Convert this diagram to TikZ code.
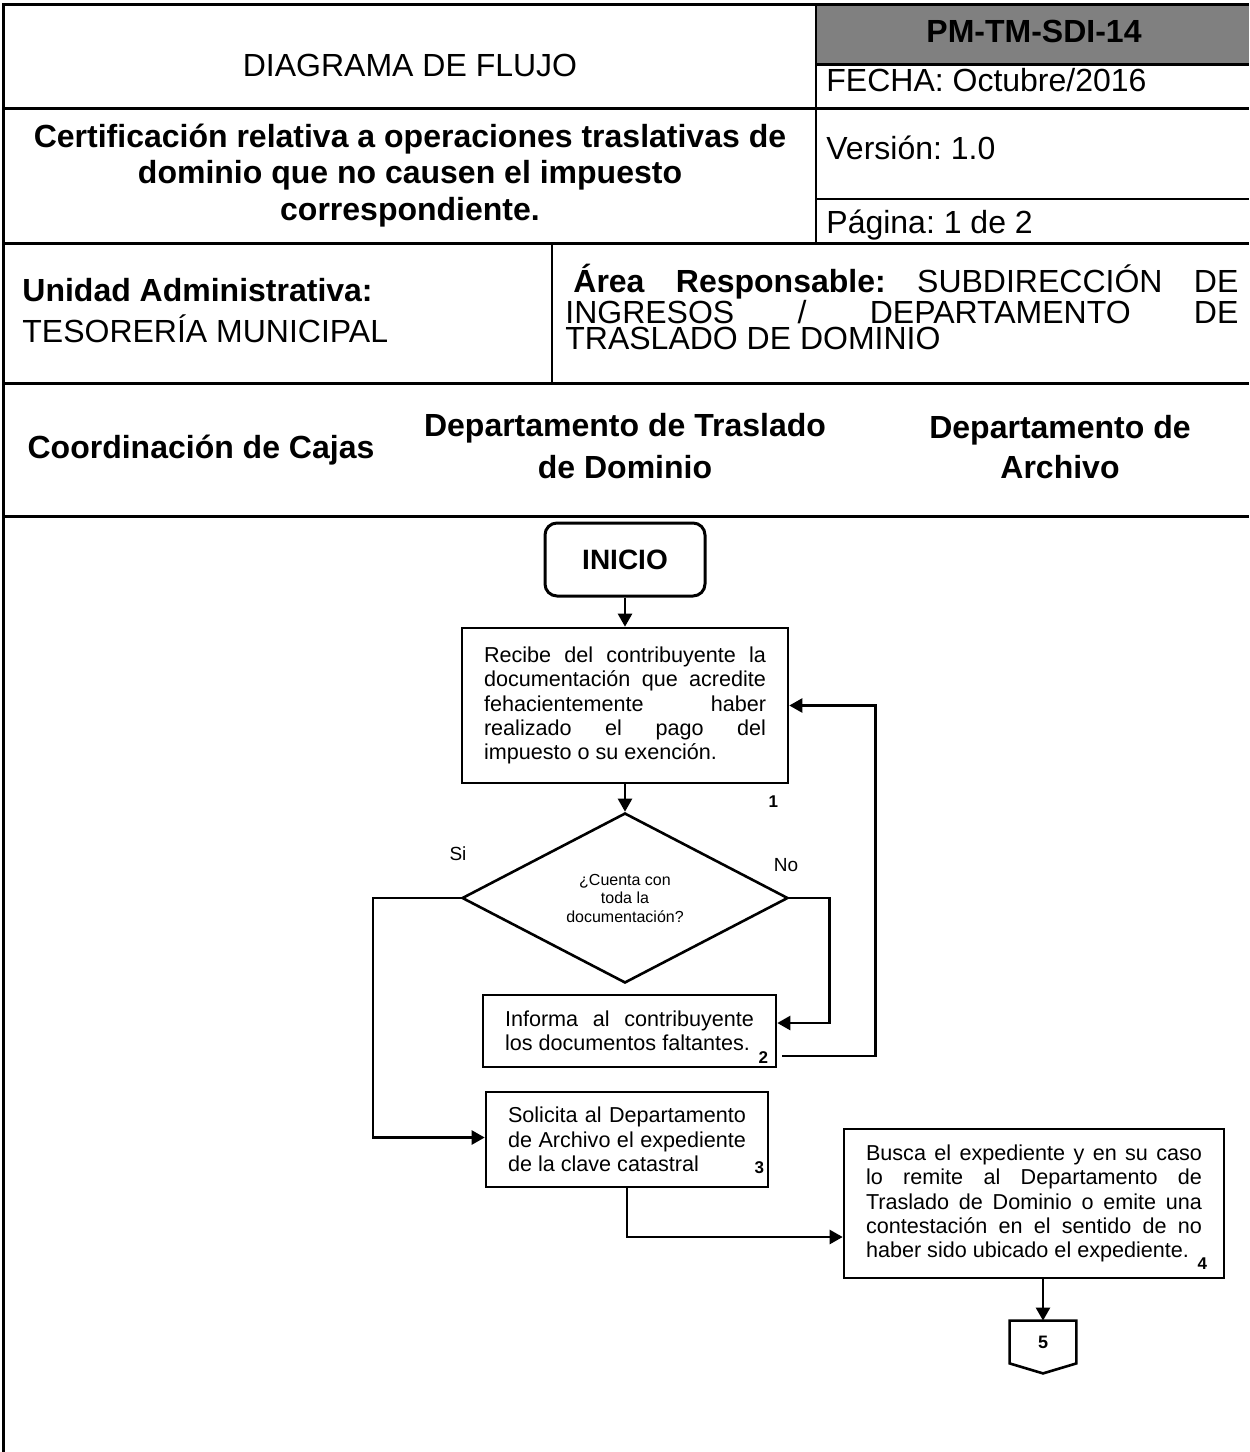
\documentclass[tikz,border=0pt]{standalone}
\usepackage{fontspec}
\setmainfont{Liberation Sans}
\frenchspacing
\usetikzlibrary{arrows.meta,shapes.geometric}

\begin{document}
\begin{tikzpicture}[x=0.5pt,y=-0.5pt,
    hdr/.style={font=\fontsize{16}{18}\selectfont, inner sep=0pt},
    hdrb/.style={font=\fontsize{16}{18}\selectfont\bfseries, inner sep=0pt},
    proc/.style={draw, line width=1.3pt, inner xsep=11pt, inner ysep=0pt,
      font=\fontsize{10.8}{12.2}\selectfont, align=justify},
    num/.style={font=\fontsize{8.5}{9}\selectfont\bfseries, inner sep=0pt, anchor=base},
    lbl/.style={font=\fontsize{9.5}{11}\selectfont, inner sep=0pt, anchor=base},
    arr/.style={line width=1.2pt, -{Triangle[length=6.5pt,width=7pt]}}
  ]
  \useasboundingbox (0,0) rectangle (1249,1452);

  % encabezado
  \fill[black!50] (816,4) rectangle (1249,64);
  \draw[line width=1.5pt] (3,1452) -- (3,4) -- (1249,4);
  \draw[line width=1.5pt] (816,64) -- (1249,64);
  \draw[line width=1.5pt] (3,108) -- (1249,108);
  \draw[line width=1pt] (816,199) -- (1249,199);
  \draw[line width=1.5pt] (3,243) -- (1249,243);
  \draw[line width=1pt] (816,4) -- (816,243);
  \draw[line width=1pt] (552,243) -- (552,383);
  \draw[line width=1.5pt] (3,383) -- (1249,383);
  \draw[line width=1.5pt] (3,516) -- (1249,516);

  \node[hdr, anchor=base] (diag) at (410,76) {DIAGRAMA DE FLUJO};
  \node[hdrb, anchor=base] (clave) at (1034,42) {PM-TM-SDI-14};
  \node[hdr, anchor=base west] (fecha) at (826,91) {FECHA: Octubre/2016};
  \node[hdrb, anchor=base, align=center, font=\fontsize{16}{18.25}\selectfont\bfseries] (tram) at (410,220)
    {Certificación relativa a operaciones traslativas de\\dominio que no causen el impuesto\\correspondiente.};
  \node[hdr, anchor=base west] (vers) at (826,159) {Versión: 1.0};
  \node[hdr, anchor=base west] (pag) at (826,233) {Página: 1 de 2};
  \node[hdrb, anchor=base west] (unidad) at (22,301) {Unidad Administrativa:};
  \node[hdr, anchor=base west] (tes) at (22,342) {TESORERÍA MUNICIPAL};
  \node[hdr, anchor=base west, text width=336.5pt, align=justify,
    font=\fontsize{16}{12.75}\selectfont] (area) at (565,292)
    {\lineskiplimit=-30pt\relax\hspace*{4pt}\textbf{Área Responsable:} SUBDIRECCIÓN DE\linebreak INGRESOS / DEPARTAMENTO DE\linebreak TRASLADO DE DOMINIO};

  % columnas
  \node[hdrb, anchor=base] (cajas) at (201,458) {Coordinación de Cajas};
  \node[hdrb, anchor=base, align=center, font=\fontsize{16}{21}\selectfont\bfseries] (trasl) at (625,478)
    {Departamento de Traslado\\de Dominio};
  \node[hdrb, anchor=base, align=center, font=\fontsize{16}{20}\selectfont\bfseries] (archivo) at (1060,478)
    {Departamento de\\Archivo};

  % flujo
  \node[draw, line width=1.5pt, rounded corners=6pt, minimum width=80pt, minimum height=36.5pt,
    font=\fontsize{14}{16}\selectfont\bfseries] (ini) at (625,559.5) {INICIO};
  \node[proc, text width=141pt, minimum height=77.5pt] (b1) at (625,705.5)
    {Recibe del contribuyente la\linebreak documentación que acredite\linebreak fehacientemente haber\linebreak realizado el pago del\linebreak impuesto o su exención.};
  \node[draw, diamond, line width=1.3pt, minimum width=163pt, minimum height=85pt, inner sep=0pt,
    align=center, font=\fontsize{8}{9.25}\selectfont] (dec) at (625,898)
    {¿Cuenta con\\toda la\\documentación?};
  \node[proc, text width=124.5pt, minimum height=36pt] (b2) at (629.5,1031)
    {Informa al contribuyente\linebreak los documentos faltantes.};
  \node[proc, text width=119pt, minimum height=47.5pt] (b3) at (627,1139.5)
    {Solicita al Departamento\linebreak de Archivo el expediente\linebreak de la clave catastral};
  \node[proc, text width=168pt, minimum height=74.5pt] (b4) at (1034,1203.5)
    {Busca el expediente y en su caso\linebreak lo remite al Departamento de\linebreak Traslado de Dominio o emite una\linebreak contestación en el sentido de no\linebreak haber sido ubicado el expediente.};
  \node[inner sep=0pt, minimum width=33pt, minimum height=21pt,
    font=\fontsize{9}{10}\selectfont\bfseries] (c5) at (1043,1342) {5};
  \draw[line width=1.3pt] (c5.north west) -- (c5.north east) -- (c5.south east)
    -- ([yshift=-5pt]c5.south) -- (c5.south west) -- cycle;

  \node[num] (n1) at ([xshift=-8pt,yshift=-11.5pt]b1.south east) {1};
  \node[num] (n2) at ([xshift=-7pt,yshift=2.5pt]b2.south east) {2};
  \node[num] (n3) at ([xshift=-5pt,yshift=7.5pt]b3.south east) {3};
  \node[num] (n4) at ([xshift=-11.5pt,yshift=5pt]b4.south east) {4};
  \node[lbl] (si) at (458,860) {Si};
  \node[lbl] (no) at (786,871) {No};

  \draw[arr] (ini) -- (b1);
  \draw[arr] (b1) -- (dec);
  \draw[arr] (dec.west) -- ++(-88,0) |- ([yshift=1pt]b3.west);
  \draw[arr] (dec.east) -- ++(40,0) |- ([yshift=4pt]b2.east);
  \draw[arr] ([xshift=2.5pt,yshift=-12.5pt]b2.east) -| ([xshift=43pt]b1.east) -- (b1.east);
  \draw[arr] (b3.south) |- ([yshift=-16.75pt]b4.west);
  \draw[arr] (b4.south -| c5.north) -- (c5.north);
\end{tikzpicture}
\end{document}
